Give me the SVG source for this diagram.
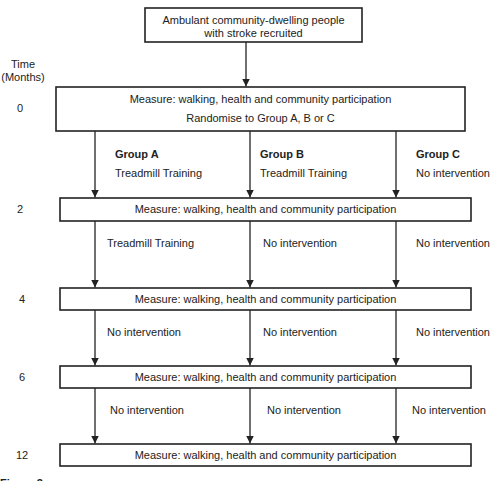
<svg xmlns="http://www.w3.org/2000/svg" width="495" height="481" viewBox="0 0 495 481">
<style>
text{font-family:"Liberation Sans",Arial,sans-serif;font-size:11px;fill:#222}
.b{font-weight:bold}
.m{text-anchor:middle}
.box{fill:#fff;stroke:#222;stroke-width:1.6}
.ln{stroke:#222;stroke-width:1.3;fill:none;marker-end:url(#ah)}
</style>
<defs>
<marker id="ah" viewBox="0 0 8 8" refX="8" refY="4" markerWidth="8" markerHeight="8" markerUnits="userSpaceOnUse" orient="auto">
<path d="M0,0 L8,4 L0,8 Z" fill="#222"/>
</marker>
</defs>
<rect width="495" height="481" fill="#fff"/>
<g id="connectors">
<line class="ln" x1="246" y1="42" x2="246" y2="86.5"/>
<line class="ln" x1="95" y1="131" x2="95" y2="197.5"/>
<line class="ln" x1="250" y1="131" x2="250" y2="197.5"/>
<line class="ln" x1="396" y1="131" x2="396" y2="197.5"/>
<line class="ln" x1="95" y1="221" x2="95" y2="287.5"/>
<line class="ln" x1="250" y1="221" x2="250" y2="287.5"/>
<line class="ln" x1="396" y1="221" x2="396" y2="287.5"/>
<line class="ln" x1="95" y1="310" x2="95" y2="365.5"/>
<line class="ln" x1="250" y1="310" x2="250" y2="365.5"/>
<line class="ln" x1="396" y1="310" x2="396" y2="365.5"/>
<line class="ln" x1="95" y1="388" x2="95" y2="443.5"/>
<line class="ln" x1="250" y1="388" x2="250" y2="443.5"/>
<line class="ln" x1="396" y1="388" x2="396" y2="443.5"/>
</g>
<g id="recruit">
<rect class="box" x="145" y="8" width="217" height="34"/>
<text class="m" x="253.5" y="24">Ambulant community-dwelling people</text>
<text class="m" x="253.5" y="37">with stroke recruited</text>
</g>
<g id="time-axis">
<text class="m" x="23" y="68">Time</text>
<text class="m" x="23" y="81">(Months)</text>
<text class="m" x="20" y="112">0</text>
<text class="m" x="20" y="213">2</text>
<text class="m" x="22" y="303">4</text>
<text class="m" x="22" y="381">6</text>
<text class="m" x="22" y="459">12</text>
</g>
<g id="m0">
<rect class="box" x="56" y="87" width="409" height="44"/>
<text class="m" x="260.5" y="103">Measure: walking, health and community participation</text>
<text class="m" x="260.5" y="122">Randomise to Group A, B or C</text>
</g>
<g id="groups">
<text class="b" x="115" y="158">Group A</text>
<text x="115" y="177">Treadmill Training</text>
<text class="b" x="260" y="158">Group B</text>
<text x="260" y="177">Treadmill Training</text>
<text class="b" x="416" y="158">Group C</text>
<text x="416" y="177">No intervention</text>
</g>
<g id="m2">
<rect class="box" x="60" y="198" width="411" height="23"/>
<text class="m" x="265.5" y="213">Measure: walking, health and community participation</text>
</g>
<g id="phase2">
<text x="107" y="247">Treadmill Training</text>
<text x="263" y="247">No intervention</text>
<text x="416" y="247">No intervention</text>
</g>
<g id="m4">
<rect class="box" x="60" y="288" width="411" height="22"/>
<text class="m" x="265.5" y="303">Measure: walking, health and community participation</text>
</g>
<g id="phase4">
<text x="107" y="336">No intervention</text>
<text x="263" y="336">No intervention</text>
<text x="416" y="336">No intervention</text>
</g>
<g id="m6">
<rect class="box" x="60" y="366" width="411" height="22"/>
<text class="m" x="265.5" y="381">Measure: walking, health and community participation</text>
</g>
<g id="phase6">
<text x="110" y="414">No intervention</text>
<text x="267" y="414">No intervention</text>
<text x="412" y="414">No intervention</text>
</g>
<g id="m12">
<rect class="box" x="60" y="444" width="411" height="22"/>
<text class="m" x="265.5" y="459">Measure: walking, health and community participation</text>
</g>
<text class="b" x="0" y="487">Figure 2</text>
</svg>
